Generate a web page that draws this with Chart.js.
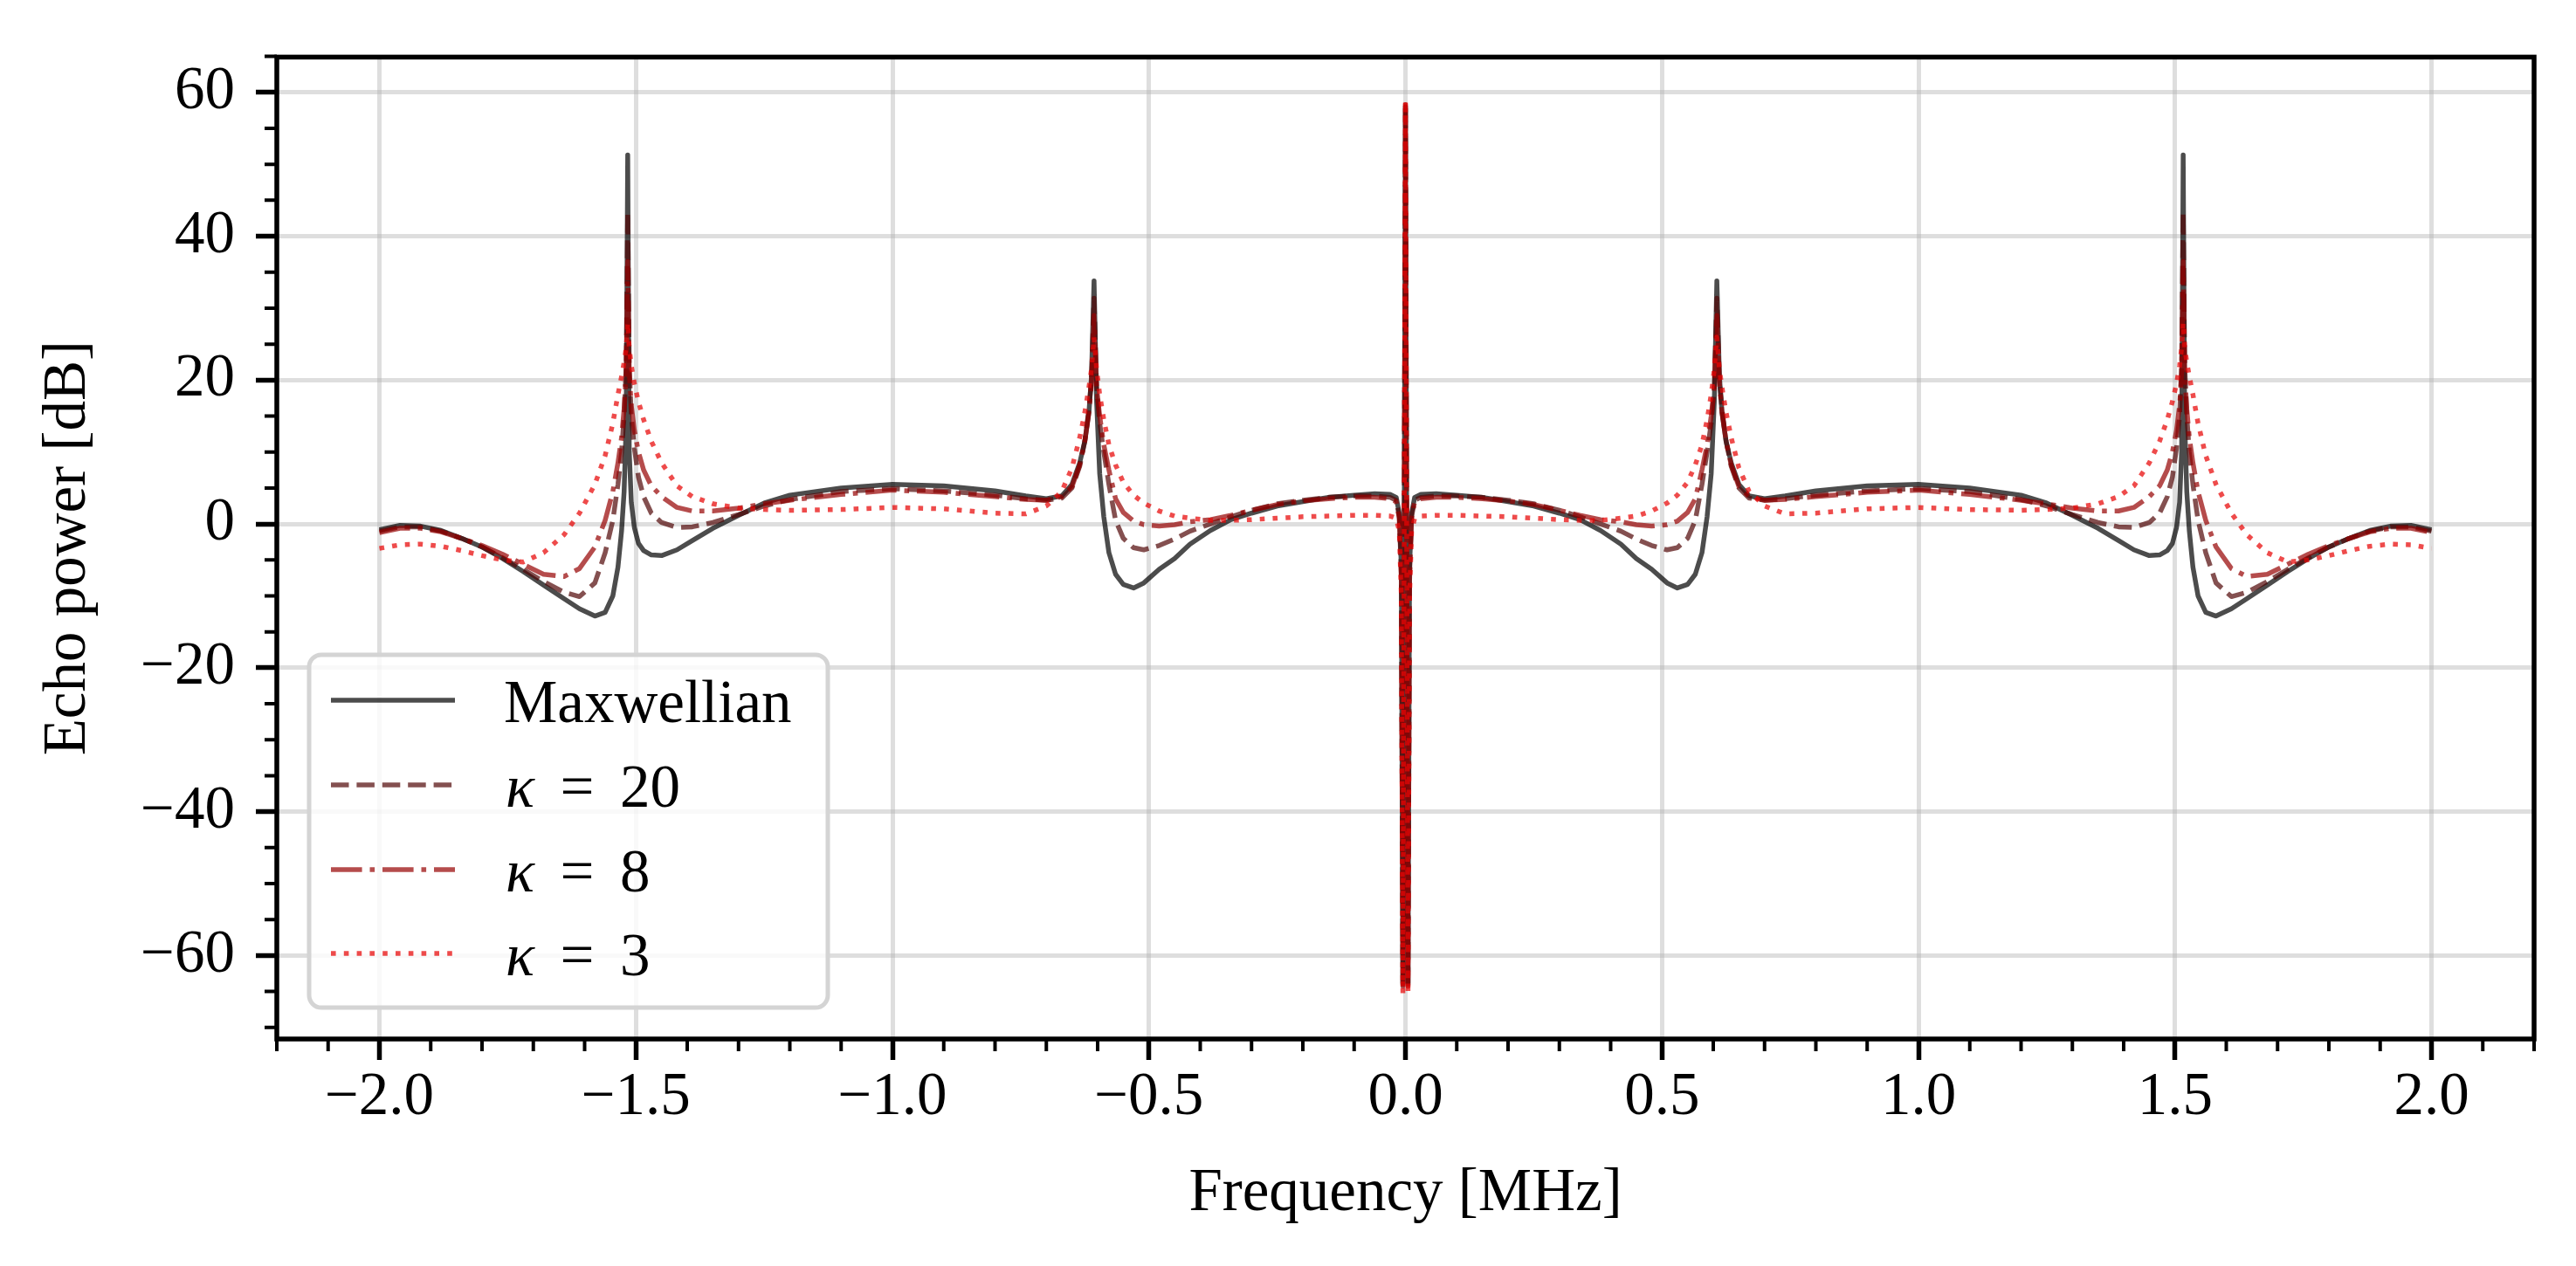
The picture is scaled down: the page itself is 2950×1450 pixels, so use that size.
<!DOCTYPE html>
<html>
<head>
<meta charset="utf-8">
<title>Echo power spectrum</title>
<script src="https://cdn.jsdelivr.net/npm/chart.js@4.4.1/dist/chart.umd.min.js"></script>
<style>
    html, body { margin: 0; padding: 0; background: #fff; }
    #wrap { width: 2950px; height: 1450px; }
</style>
</head>
<body>
<div id="wrap"><canvas id="spectrumChart" width="2950" height="1450"></canvas></div>
<script>
/* ============================================================
   Echo power spectra — Maxwellian vs kappa distributions
   ============================================================ */

// ── Data ───────────────────────────────────────────────────
var freqMHz = [
    -2.00, -1.96, -1.92, -1.88, -1.84, -1.80, -1.76, -1.72, -1.68, -1.64,
    -1.61, -1.58, -1.56, -1.545, -1.535, -1.528, -1.523, -1.519, -1.516, -1.513,
    -1.509, -1.503, -1.495, -1.485, -1.47, -1.45, -1.42, -1.39, -1.35, -1.30,
    -1.25, -1.20, -1.10, -1.00, -0.90, -0.80, -0.74, -0.70, -0.67, -0.65,
    -0.635, -0.625, -0.617, -0.612, -0.607, -0.602, -0.596, -0.588, -0.578, -0.565,
    -0.55, -0.53, -0.51, -0.48, -0.45, -0.42, -0.38, -0.34, -0.30, -0.25,
    -0.20, -0.15, -0.10, -0.06, -0.03, -0.018, -0.012, -0.008, -0.005, 0,
    0.005, 0.008, 0.012, 0.018, 0.03, 0.06, 0.10, 0.15, 0.20,
    0.25, 0.30, 0.34, 0.38, 0.42, 0.45, 0.48, 0.51, 0.53, 0.55,
    0.565, 0.578, 0.588, 0.596, 0.602, 0.607, 0.612, 0.617, 0.625, 0.635,
    0.65, 0.67, 0.70, 0.74, 0.80, 0.90, 1.00, 1.10, 1.20, 1.25,
    1.30, 1.35, 1.39, 1.42, 1.45, 1.47, 1.485, 1.495, 1.503, 1.509,
    1.513, 1.516, 1.519, 1.523, 1.528, 1.535, 1.545, 1.56, 1.58, 1.61,
    1.64, 1.68, 1.72, 1.76, 1.80, 1.84, 1.88, 1.92, 1.96, 2.00
];

var maxwellianDb = [
    -0.8, -0.2, -0.3, -0.9, -2.0, -3.2, -4.8, -6.6, -8.5, -10.4,
    -11.8, -12.8, -12.3, -10.0, -6.0, -1.0, 4.5, 14.0, 51.3, 10.0,
    3.0, -0.5, -2.7, -3.7, -4.3, -4.4, -3.6, -2.3, -0.6, 1.2,
    2.9, 4.0, 5.0, 5.5, 5.3, 4.6, 3.9, 3.5, 3.9, 5.5,
    8.5, 11.5, 15.5, 20.5, 33.8, 17.0, 7.0, 1.0, -4.0, -7.0,
    -8.4, -8.9, -8.2, -6.3, -4.8, -2.8, -0.9, 0.6, 1.5, 2.5,
    3.1, 3.7, 4.0, 4.2, 4.1, 3.7, 1.5, -6.0, -63.8, 58.0,
    -63.8, -6.0, 1.5, 3.7, 4.1, 4.2, 4.0, 3.7, 3.1,
    2.5, 1.5, 0.6, -0.9, -2.8, -4.8, -6.3, -8.2, -8.9, -8.4,
    -7.0, -4.0, 1.0, 7.0, 17.0, 33.8, 20.5, 15.5, 11.5, 8.5,
    5.5, 3.9, 3.5, 3.9, 4.6, 5.3, 5.5, 5.0, 4.0, 2.9,
    1.2, -0.6, -2.3, -3.6, -4.4, -4.3, -3.7, -2.7, -0.5, 3.0,
    10.0, 51.3, 14.0, 4.5, -1.0, -6.0, -10.0, -12.3, -12.8, -11.8,
    -10.4, -8.5, -6.6, -4.8, -3.2, -2.0, -0.9, -0.3, -0.2, -0.8
];

var kappa20Db = [
    -1.0, -0.4, -0.4, -1.0, -2.0, -3.2, -4.7, -6.3, -8.0, -9.5,
    -10.1, -8.2, -4.0, 0.5, 5.5, 10.0, 15.0, 22.0, 43.4, 22.0,
    15.0, 10.5, 6.5, 3.8, 1.5, 0.2, -0.5, -0.4, 0.2, 1.3,
    2.5, 3.4, 4.5, 4.9, 4.6, 4.0, 3.5, 3.3, 3.6, 5.0,
    8.0, 11.5, 16.0, 20.0, 31.4, 19.0, 14.0, 10.0, 5.5, 0.5,
    -2.0, -3.3, -3.6, -3.0, -2.1, -1.0, 0.0, 1.0, 1.9, 2.8,
    3.3, 3.7, 3.9, 3.9, 3.7, 3.3, 1.0, -7.0, -64.0, 58.2,
    -64.0, -7.0, 1.0, 3.3, 3.7, 3.9, 3.9, 3.7, 3.3,
    2.8, 1.9, 1.0, 0.0, -1.0, -2.1, -3.0, -3.6, -3.3, -2.0,
    0.5, 5.5, 10.0, 14.0, 19.0, 31.4, 20.0, 16.0, 11.5, 8.0,
    5.0, 3.6, 3.3, 3.5, 4.0, 4.6, 4.9, 4.5, 3.4, 2.5,
    1.3, 0.2, -0.4, -0.5, 0.2, 1.5, 3.8, 6.5, 10.5, 15.0,
    22.0, 43.4, 22.0, 15.0, 10.0, 5.5, 0.5, -4.0, -8.2, -10.1,
    -9.5, -8.0, -6.3, -4.7, -3.2, -2.0, -1.0, -0.4, -0.4, -1.0
];

var kappa8Db = [
    -1.2, -0.6, -0.6, -1.1, -2.0, -3.0, -4.2, -5.6, -7.0, -7.3,
    -6.2, -3.2, 0.5, 4.5, 8.5, 12.0, 16.0, 21.0, 36.5, 21.0,
    16.5, 13.0, 10.0, 7.5, 5.3, 3.8, 2.3, 1.8, 1.8, 2.2,
    2.8, 3.3, 4.1, 4.7, 4.4, 3.8, 3.4, 3.3, 3.8, 5.2,
    8.2, 11.5, 15.5, 19.5, 29.0, 19.0, 15.0, 11.0, 7.5, 3.5,
    1.6, 0.4, -0.1, -0.3, -0.1, 0.3, 0.6, 1.2, 1.9, 2.7,
    3.2, 3.5, 3.7, 3.7, 3.5, 3.1, 0.8, -8.0, -64.3, 58.3,
    -64.3, -8.0, 0.8, 3.1, 3.5, 3.7, 3.7, 3.5, 3.2,
    2.7, 1.9, 1.2, 0.6, 0.3, -0.1, -0.3, -0.1, 0.4, 1.6,
    3.5, 7.5, 11.0, 15.0, 19.0, 29.0, 19.5, 15.5, 11.5, 8.2,
    5.2, 3.8, 3.3, 3.4, 3.8, 4.4, 4.7, 4.1, 3.3, 2.8,
    2.2, 1.8, 1.8, 2.3, 3.8, 5.3, 7.5, 10.0, 13.0, 16.5,
    21.0, 36.5, 21.0, 16.0, 12.0, 8.5, 4.5, 0.5, -3.2, -6.2,
    -7.3, -7.0, -5.6, -4.2, -3.0, -2.0, -1.1, -0.6, -0.6, -1.2
];

var kappa3Db = [
    -3.4, -2.9, -2.8, -3.1, -3.7, -4.4, -5.0, -5.3, -4.0, -1.5,
    1.5, 5.5, 9.5, 14.0, 18.0, 20.5, 22.5, 24.5, 28.0, 24.5,
    22.0, 19.5, 17.0, 14.5, 11.5, 8.5, 5.3, 3.8, 2.8, 2.2,
    2.0, 1.9, 2.0, 2.3, 2.1, 1.5, 1.4, 2.5, 4.5, 7.8,
    12.0, 15.5, 19.0, 21.5, 26.0, 21.5, 18.0, 14.5, 11.0, 8.2,
    5.8, 4.0, 2.9, 1.8, 1.1, 0.8, 0.5, 0.5, 0.6, 0.8,
    1.0, 1.1, 1.2, 1.2, 1.1, 0.8, -1.0, -10.0, -65.3, 58.8,
    -65.3, -10.0, -1.0, 0.8, 1.1, 1.2, 1.2, 1.1, 1.0,
    0.8, 0.6, 0.5, 0.5, 0.8, 1.1, 1.8, 2.9, 4.0, 5.8,
    8.2, 11.0, 14.5, 18.0, 21.5, 26.0, 21.5, 19.0, 15.5, 12.0,
    7.8, 4.5, 2.5, 1.4, 1.5, 2.1, 2.3, 2.0, 1.9, 2.0,
    2.2, 2.8, 3.8, 5.3, 8.5, 11.5, 14.5, 17.0, 19.5, 22.0,
    24.5, 28.0, 24.5, 22.5, 20.5, 18.0, 14.0, 9.5, 5.5, 1.5,
    -1.5, -4.0, -5.3, -5.0, -4.4, -3.7, -3.1, -2.8, -2.9, -3.4
];

var seriesNames = ['Maxwellian', 'κ = 20', 'κ = 8', 'κ = 3'];
var xTickValues = [-2.0, -1.5, -1.0, -0.5, 0.0, 0.5, 1.0, 1.5, 2.0];
var yTickValues = [-60, -40, -20, 0, 20, 40, 60];

// ── Styles ─────────────────────────────────────────────────
var fontFamily = '"Liberation Serif", "Times New Roman", serif';
var fontPx = 69;
var lw = 5.5;
var seriesStyles = [
    { color: 'rgba(0, 0, 0, 0.7)',    dash: [] },
    { color: 'rgba(80, 5, 5, 0.7)',   dash: [20.5, 8.9] },
    { color: 'rgba(150, 0, 0, 0.7)',  dash: [35.6, 8.9, 5.6, 8.9] },
    { color: 'rgba(232, 5, 5, 0.72)', dash: [5.6, 9.2] }
];

function toPoints(values) {
    return freqMHz.map(function (f, i) { return { x: f, y: values[i] }; });
}

function minusSign(s) { return String(s).replace('-', '\u2212'); }

// ── Frame + minor ticks ────────────────────────────────────
var frameAndTicks = {
    id: 'frameAndTicks',
    afterDatasetsDraw: function (chart) {
        var ctx = chart.ctx, a = chart.chartArea;
        var xs = chart.scales.x, ys = chart.scales.y;
        ctx.save();
        ctx.strokeStyle = '#000';
        ctx.lineWidth = 4;
        ctx.beginPath();
        for (var i = -22; i <= 22; i++) {
            if (i % 5 === 0) continue;
            var px = xs.getPixelForValue(i / 10);
            ctx.moveTo(px, a.bottom);
            ctx.lineTo(px, a.bottom + 14);
        }
        for (var j = -70; j <= 65; j += 5) {
            if (j % 20 === 0) continue;
            var py = ys.getPixelForValue(j);
            if (py < a.top - 1 || py > a.bottom + 1) continue;
            ctx.moveTo(a.left, py);
            ctx.lineTo(a.left - 14, py);
        }
        ctx.stroke();
        ctx.lineWidth = 5.5;
        ctx.strokeRect(a.left, a.top, a.right - a.left, a.bottom - a.top);
        ctx.restore();
    }
};

// ── Legend box (lower left, matplotlib style) ──────────────
var legendBox = {
    id: 'legendBox',
    afterDraw: function (chart) {
        var ctx = chart.ctx;
        var bx = 354, by = 750, bw = 594, bh = 404, r = 14;
        ctx.save();
        ctx.beginPath();
        ctx.moveTo(bx + r, by);
        ctx.arcTo(bx + bw, by, bx + bw, by + bh, r);
        ctx.arcTo(bx + bw, by + bh, bx, by + bh, r);
        ctx.arcTo(bx, by + bh, bx, by, r);
        ctx.arcTo(bx, by, bx + bw, by, r);
        ctx.closePath();
        ctx.fillStyle = 'rgba(255, 255, 255, 0.8)';
        ctx.fill();
        ctx.strokeStyle = '#d4d4d4';
        ctx.lineWidth = 5;
        ctx.stroke();

        var baselines = [827, 924, 1021, 1117];
        seriesNames.forEach(function (name, i) {
            var base = baselines[i];
            var st = seriesStyles[i];
            ctx.beginPath();
            ctx.strokeStyle = st.color;
            ctx.lineWidth = lw;
            ctx.lineCap = 'butt';
            ctx.setLineDash(st.dash);
            ctx.moveTo(379, base - 25);
            ctx.lineTo(521, base - 25);
            ctx.stroke();
            ctx.setLineDash([]);

            ctx.fillStyle = '#000';
            ctx.textBaseline = 'alphabetic';
            if (name.charAt(0) === 'κ') {
                ctx.textAlign = 'left';
                ctx.font = 'italic ' + fontPx + 'px ' + fontFamily;
                ctx.fillText('κ', 579, base);
                ctx.font = fontPx + 'px ' + fontFamily;
                ctx.textAlign = 'center';
                ctx.fillText('=', 661, base);
                ctx.textAlign = 'left';
                ctx.fillText(name.split('=')[1].trim(), 710, base);
            } else {
                ctx.textAlign = 'left';
                ctx.font = fontPx + 'px ' + fontFamily;
                ctx.fillText(name, 577, base);
            }
        });
        ctx.restore();
    }
};

// ── Chart ──────────────────────────────────────────────────
Chart.defaults.color = '#000';
Chart.defaults.font.family = fontFamily;

var seriesValues = [maxwellianDb, kappa20Db, kappa8Db, kappa3Db];

new Chart(document.getElementById('spectrumChart'), {
    type: 'line',
    data: {
        datasets: seriesValues.map(function (vals, i) {
            return {
                label: seriesNames[i],
                data: toPoints(vals),
                borderColor: seriesStyles[i].color,
                borderDash: seriesStyles[i].dash,
                borderWidth: lw,
                borderCapStyle: 'butt',
                borderJoinStyle: 'round',
                pointRadius: 0,
                fill: false,
                tension: 0,
                order: 4 - i
            };
        })
    },
    options: {
        responsive: false,
        animation: false,
        devicePixelRatio: 1,
        layout: { autoPadding: false, padding: { top: 48, right: 48, left: 0, bottom: 0 } },
        plugins: { legend: { display: false }, tooltip: { enabled: false } },
        scales: {
            x: {
                type: 'linear',
                min: -2.2,
                max: 2.2,
                afterBuildTicks: function (scale) {
                    scale.ticks = xTickValues.map(function (v) { return { value: v }; });
                },
                afterFit: function (scale) { scale.height = 260; },
                ticks: {
                    autoSkip: false,
                    maxRotation: 0,
                    padding: 2,
                    font: { size: fontPx },
                    callback: function (v) { return minusSign(Number(v).toFixed(1)); }
                },
                grid: {
                    color: 'rgba(176, 176, 176, 0.42)',
                    lineWidth: 5,
                    tickColor: '#000',
                    tickLength: 24,
                    tickWidth: 5.5
                },
                border: { display: false },
                title: {
                    display: true,
                    text: 'Frequency [MHz]',
                    font: { size: fontPx },
                    padding: { top: 0, bottom: 41 }
                }
            },
            y: {
                type: 'linear',
                min: -71.6,
                max: 64.9,
                afterBuildTicks: function (scale) {
                    scale.ticks = yTickValues.map(function (v) { return { value: v }; });
                },
                afterFit: function (scale) { scale.width = 317; },
                ticks: {
                    padding: 24,
                    font: { size: fontPx },
                    callback: function (v) { return minusSign(v); }
                },
                grid: {
                    color: 'rgba(176, 176, 176, 0.42)',
                    lineWidth: 5,
                    tickColor: '#000',
                    tickLength: 24,
                    tickWidth: 5.5
                },
                border: { display: false },
                title: {
                    display: true,
                    text: 'Echo power [dB]',
                    font: { size: fontPx },
                    padding: { top: 37, bottom: 0 }
                }
            }
        }
    },
    plugins: [frameAndTicks, legendBox]
});
</script>
</body>
</html>
